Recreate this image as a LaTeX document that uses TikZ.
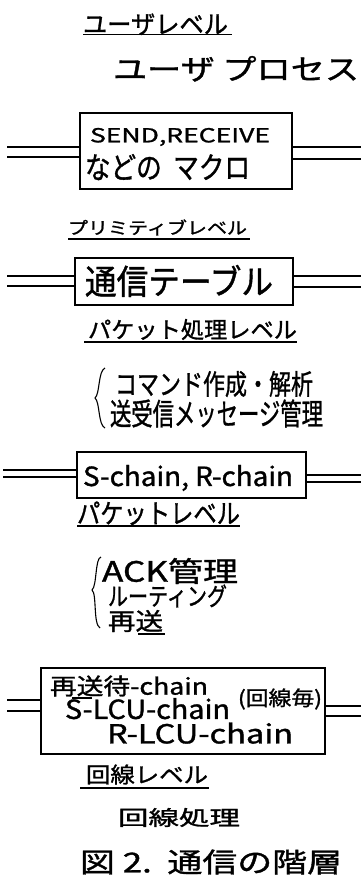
\documentclass[tikz,border=0pt]{standalone}
\usepackage{fontspec}
\setmainfont{Noto Sans CJK JP}
\newfontfamily\handf[FakeBold=1.2]{Noto Sans CJK JP}
\usepackage{graphicx}
\newcommand\fitt[3]{\resizebox*{#1pt}{#2pt}{\handf\vphantom{国}#3}}
\begin{document}
\begin{tikzpicture}[x=1pt,y=-1pt,
  txt/.style={inner sep=0pt, outer sep=0pt, anchor=west},
  frame/.style={draw, line width=1.3pt, inner sep=0pt, outer sep=0pt, anchor=north west},
  rail/.style={line width=1.1pt},
  uline/.style={line width=1.3pt},
  brc/.style={line width=1.1pt}]
\useasboundingbox (0,0) rectangle (361,876);
% ---- user level
\node[txt] (t1) at (83,24.5) {\fitt{145}{22}{ユーザレベル}};
\coordinate (u1a) at (83,34.5); \coordinate (u1b) at (232,34.5);
\draw[uline] (u1a) -- (u1b);
\node[txt] (t2) at (113,69) {\fitt{246}{26}{ユーザ\ プロセス}};
% ---- box 1
\node[frame, minimum width=212pt, minimum height=76pt] (B1) at (80,113) {};
\node[txt] (t3) at (90,136.5) {\fitt{180}{19}{SEND,RECEIVE}};
\node[txt] (t4) at (85,167.5) {\fitt{165}{27}{などの\ \ マクロ}};
\coordinate (l1a) at (7,147); \coordinate (l1b) at (7,157);
\coordinate (r1a) at (361,147); \coordinate (r1b) at (361,159);
\draw[rail] (l1a) -- (B1.west |- l1a);
\draw[rail] (l1b) -- (B1.west |- l1b);
\draw[rail] (B1.east |- r1a) -- (r1a);
\draw[rail] (B1.east |- r1b) -- (r1b);
% ---- primitive level
\node[txt] (t5) at (68,227.5) {\fitt{179}{16}{プリミティブレベル}};
\coordinate (u5a) at (68,239); \coordinate (u5b) at (250,239);
\draw[uline] (u5a) -- (u5b);
% ---- box 2
\node[frame, minimum width=218pt, minimum height=47pt] (B2) at (75,258) {};
\node[txt] (t6) at (85,281) {\fitt{188}{32}{通信テーブル}};
\coordinate (l2a) at (7,276); \coordinate (l2b) at (7,286);
\coordinate (r2a) at (361,276); \coordinate (r2b) at (361,287);
\draw[rail] (l2a) -- (B2.west |- l2a);
\draw[rail] (l2b) -- (B2.west |- l2b);
\draw[rail] (B2.east |- r2a) -- (r2a);
\draw[rail] (B2.east |- r2b) -- (r2b);
% ---- packet processing level
\node[txt] (t7) at (88,329.5) {\fitt{209}{21}{パケット処理レベル}};
\coordinate (u7a) at (84,342); \coordinate (u7b) at (297,342);
\draw[uline] (u7a) -- (u7b);
\coordinate (br1a) at (105,368); \coordinate (br1m) at (95,398); \coordinate (br1b) at (105,428);
\draw[brc] (br1a) .. controls (98,371) and (100,394) .. (br1m) .. controls (100,402) and (98,425) .. (br1b);
\node[txt] (t8) at (115,384) {\fitt{198}{26}{コマンド作成・解析}};
\node[txt] (t9) at (110,413.5) {\fitt{213}{28}{送受信メッセージ管理}};
% ---- box 3
\node[frame, minimum width=229pt, minimum height=46pt] (B3) at (77,452) {};
\node[txt] (t10) at (83,478) {\fitt{210}{26}{S-chain, R-chain}};
\coordinate (l3a) at (3,470); \coordinate (l3b) at (3,477);
\coordinate (r3a) at (361,475); \coordinate (r3b) at (361,482);
\draw[rail] (l3a) -- (B3.west |- l3a);
\draw[rail] (l3b) -- (B3.west |- l3b);
\draw[rail] (B3.east |- r3a) -- (r3a);
\draw[rail] (B3.east |- r3b) -- (r3b);
% ---- packet level
\node[txt] (t11) at (77,513.5) {\fitt{163}{24}{パケットレベル}};
\coordinate (u11a) at (77,526); \coordinate (u11b) at (240,526);
\draw[uline] (u11a) -- (u11b);
\coordinate (br2a) at (101,557); \coordinate (br2m) at (92,590); \coordinate (br2b) at (100,628);
\draw[brc] (br2a) .. controls (95,558) and (97,586) .. (br2m) .. controls (97,594) and (93,624) .. (br2b);
\node[txt] (t12) at (102,571) {\fitt{136}{26}{ACK管理}};
\node[txt] (t13) at (108,596) {\fitt{119}{23}{ルーティング}};
\node[txt] (t14) at (108,621) {\fitt{55}{22}{再送}};
\coordinate (u14a) at (138,634); \coordinate (u14b) at (165,634);
\draw[uline] (u14a) -- (u14b);
% ---- box 4
\node[frame, minimum width=284pt, minimum height=86pt] (B4) at (41,668) {};
\node[txt] (t15) at (50,686) {\fitt{158}{21}{再送待-chain}};
\coordinate (u15a) at (72,698); \coordinate (u15b) at (92,698);
\draw[uline] (u15a) -- (u15b);
\node[txt] (t16) at (65,709.5) {\fitt{165}{23}{S-LCU-chain}};
\node[txt] (t17) at (107,734) {\fitt{186}{23}{R-LCU-chain}};
\node[txt] (t18) at (238,699) {\fitt{84}{21}{(回線毎)}};
\coordinate (l4a) at (7,700); \coordinate (l4b) at (7,711);
\coordinate (r4a) at (361,706); \coordinate (r4b) at (361,716);
\draw[rail] (l4a) -- (B4.west |- l4a);
\draw[rail] (l4b) -- (B4.west |- l4b);
\draw[rail] (B4.east |- r4a) -- (r4a);
\draw[rail] (B4.east |- r4b) -- (r4b);
% ---- line level
\node[txt] (t19) at (86,774.5) {\fitt{122}{20}{回線レベル}};
\coordinate (u19a) at (80,788); \coordinate (u19b) at (209,788);
\draw[uline] (u19a) -- (u19b);
\node[txt] (t20) at (118,817.5) {\fitt{122}{19}{回線処理}};
\node[txt] (t21) at (80,862) {\fitt{262}{25}{図\ 2.\ \ 通信の階層}};
\end{tikzpicture}
\end{document}
